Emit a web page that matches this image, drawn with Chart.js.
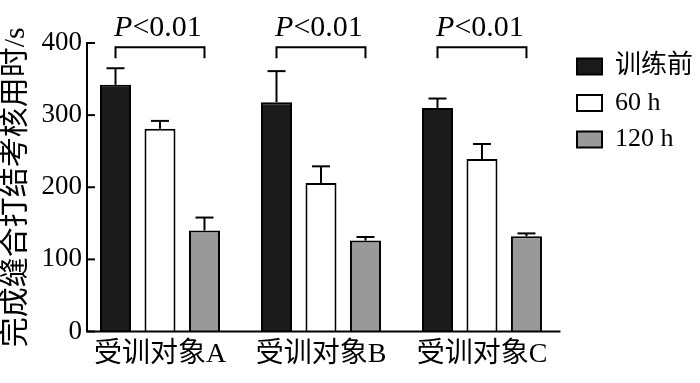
<!DOCTYPE html>
<html>
<head>
<meta charset="utf-8">
<script src="https://cdn.jsdelivr.net/npm/chart.js@4/dist/chart.umd.min.js"></script>
<style>
html,body{margin:0;padding:0;background:#fff;}
#wrap{width:700px;height:383px;position:relative;}
</style>
</head>
<body>
<div id="wrap"><canvas id="c" width="700" height="383"></canvas></div>
<script>
// ---- data ----
const categories = ['受训对象A', '受训对象B', '受训对象C'];
const seriesNames = ['训练前', '60 h', '120 h'];
const valuesBefore = [342, 318, 310];
const values60h = [281, 206, 239];
const values120h = [140, 126, 132];
const errBefore = [23, 43, 13];
const err60h = [11, 23, 21];
const err120h = [18, 5, 4];
const yTicks = [0, 100, 200, 300, 400];
const yTitle = '完成缝合打结考核用时/s';
const pLabel = ['P', '<0.01'];
const bracketTop = 394;
const bracketLeg = 379;

const allValues = [valuesBefore, values60h, values120h];
const allErrs = [errBefore, err60h, err120h];
const colors = ['#1b1b1b', '#ffffff', '#999999'];

const FONT = '"Liberation Serif", "Noto Sans CJK SC", serif';
const X_AXIS_END = 2.4876; // where the drawn x-axis line stops (in x-scale units)

const datasets = allValues.map((vals, i) => ({
  label: seriesNames[i],
  data: vals.map((v, j) => ({x: j, y: v})),
  backgroundColor: colors[i],
  borderColor: '#000',
  borderWidth: 2,
  borderSkipped: 'start',
  categoryPercentage: 0.829,
  barPercentage: 0.697
}));

function line(ctx, x1, y1, x2, y2) {
  ctx.beginPath(); ctx.moveTo(x1, y1); ctx.lineTo(x2, y2); ctx.stroke();
}

const annot = {
  id: 'annot',
  afterDraw(chart) {
    const ctx = chart.ctx, y = chart.scales.y, x = chart.scales.x, ca = chart.chartArea;
    ctx.save();
    ctx.strokeStyle = '#000';
    ctx.fillStyle = '#000';
    ctx.lineWidth = 2;
    // x axis line
    line(ctx, ca.left - 1, ca.bottom, x.getPixelForValue(X_AXIS_END), ca.bottom);
    // inward y ticks
    y.ticks.forEach(t => {
      const py = y.getPixelForValue(t.value);
      line(ctx, ca.left, py, ca.left + 8, py);
    });
    // error bars
    allErrs.forEach((errs, di) => {
      const meta = chart.getDatasetMeta(di);
      meta.data.forEach((bar, j) => {
        const base = y.getPixelForValue(allValues[di][j]);
        const top = y.getPixelForValue(allValues[di][j] + errs[j]);
        line(ctx, bar.x, base, bar.x, top);
        line(ctx, bar.x - 9, top, bar.x + 9, top);
      });
    });
    // significance brackets
    const m0 = chart.getDatasetMeta(0), m2 = chart.getDatasetMeta(2);
    const yT = y.getPixelForValue(bracketTop), yL = y.getPixelForValue(bracketLeg);
    categories.forEach((c, j) => {
      const x1 = m0.data[j].x, x2 = m2.data[j].x;
      ctx.beginPath();
      ctx.moveTo(x1, yL); ctx.lineTo(x1, yT); ctx.lineTo(x2, yT); ctx.lineTo(x2, yL);
      ctx.stroke();
      const fI = 'italic 30px ' + FONT, fN = '30px ' + FONT;
      ctx.font = fI; const w1 = ctx.measureText(pLabel[0]).width;
      ctx.font = fN; const w2 = ctx.measureText(pLabel[1]).width;
      const cx = (x1 + x2) / 2 - 2, sx = cx - (w1 + w2) / 2;
      ctx.textBaseline = 'alphabetic'; ctx.textAlign = 'left';
      ctx.font = fI; ctx.fillText(pLabel[0], sx, yT - 11);
      ctx.font = fN; ctx.fillText(pLabel[1], sx + w1, yT - 11);
    });
    ctx.restore();
  }
};

Chart.defaults.color = '#000';
new Chart(document.getElementById('c'), {
  type: 'bar',
  data: {datasets},
  options: {
    responsive: false,
    animation: false,
    devicePixelRatio: 1,
    layout: {padding: {top: 43, right: 0, bottom: 0, left: 0}},
    plugins: {
      tooltip: {enabled: false},
      legend: {
        position: 'right',
        align: 'start',
        maxWidth: 133.5,
        labels: {
          boxWidth: 25,
          boxHeight: 16,
          padding: 10.5,
          color: '#000',
          font: {family: FONT, size: 26}
        }
      }
    },
    scales: {
      x: {
        type: 'linear',
        offset: false,
        min: -0.4534,
        max: 2.525,
        grid: {display: false, drawTicks: false, offset: false},
        border: {display: false},
        afterBuildTicks: s => { s.ticks = categories.map((c, i) => ({value: i})); },
        afterFit: s => { s.height = 383 - 331.5; },
        ticks: {
          autoSkip: false, maxRotation: 0, minRotation: 0, padding: 6,
          color: '#000',
          font: {family: FONT, size: 28},
          callback: v => categories[v]
        }
      },
      y: {
        min: 0,
        max: 400,
        afterBuildTicks: s => { s.ticks = yTicks.map(v => ({value: v})); },
        afterFit: s => { s.width = 87; },
        grid: {display: false, drawTicks: false},
        border: {display: true, color: '#000', width: 2},
        ticks: {
          padding: 5,
          color: '#000',
          font: {family: FONT, size: 27}
        },
        title: {
          display: true,
          text: yTitle,
          color: '#000',
          font: {family: FONT, size: 30, lineHeight: 1.0},
          padding: {top: 1, bottom: 0}
        }
      }
    }
  },
  plugins: [annot]
});
</script>
</body>
</html>
